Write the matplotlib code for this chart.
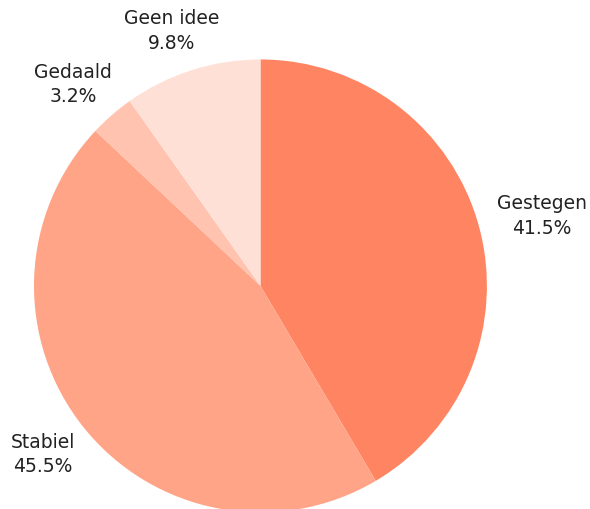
import numpy as np
import matplotlib.pyplot as plt

# Data
categories = ['Gestegen', 'Stabiel', 'Gedaald', 'Geen idee']
shares = [41.5, 45.5, 3.2, 9.8]
colors = ['#FF8562', '#FFA487', '#FFC3AF', '#FFE0D6']

labels = [f'{c}\n{v}%' for c, v in zip(categories, shares)]

fig = plt.figure(figsize=(5.9, 5.1), dpi=100)
ax = fig.add_axes([0, 0, 1, 1])

wedges, _ = ax.pie(shares, colors=colors, startangle=90,
                   counterclock=False, wedgeprops=dict(linewidth=0))

# Place the pie like the reference (radius 1 at centre 0,0)
ax.set_xlim(-1.150, 1.455)
ax.set_ylim(-0.985, 1.267)
ax.set_aspect('equal')
ax.axis('off')

# Outside labels: push each text box out along the slice's mid angle
renderer = fig.canvas.get_renderer()
inv = ax.transData.inverted()
for w, lab in zip(wedges, labels):
    ang = np.deg2rad((w.theta1 + w.theta2) / 2)
    t = ax.text(0, 0, lab, ha='center', va='center', fontsize=13.5,
                color='#222222', linespacing=1.35, multialignment='center')
    bb = t.get_window_extent(renderer)
    (x0, y0), (x1, y1) = inv.transform([[bb.x0, bb.y0], [bb.x1, bb.y1]])
    bw, bh = x1 - x0, y1 - y0
    r = 1.09
    cx = r * np.cos(ang) + np.cos(ang) * bw / 2
    cy = r * np.sin(ang) + np.sin(ang) * bh / 2
    t.set_position((cx, cy))

fig.savefig('out.png', dpi=100)
